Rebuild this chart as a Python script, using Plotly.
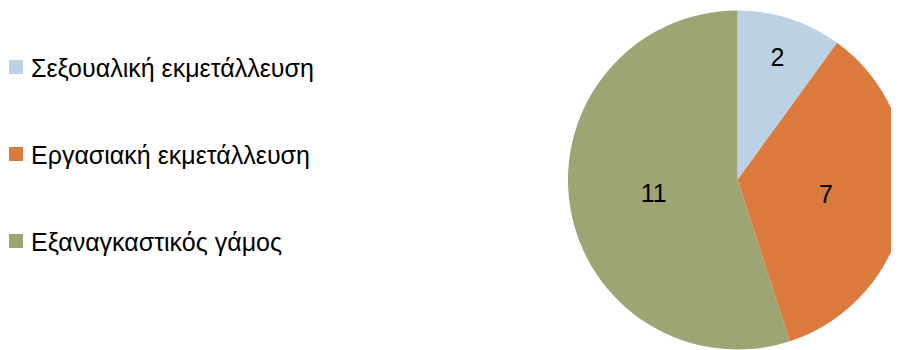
import plotly.graph_objects as go

categories = ["Σεξουαλική εκμετάλλευση", "Εργασιακή εκμετάλλευση", "Εξαναγκαστικός γάμος"]
values = [2, 7, 11]
colors = ["#bdd1e4", "#dc7a3d", "#9ea574"]

W, H = 899, 350

# pie box (px in figure coords)
px0, px1 = 560, 899
pcy = 172
half = (px1 - px0) / 2

fig = go.Figure(
    go.Pie(
        labels=categories,
        values=values,
        sort=False,
        direction="clockwise",
        rotation=0,
        marker=dict(colors=colors, line=dict(width=0)),
        textinfo="value",
        textposition="inside",
        insidetextorientation="horizontal",
        textfont=dict(family="Liberation Sans", size=25, color="black"),
        domain=dict(x=[px0 / W, px1 / W], y=[1 - (pcy + half) / H, 1 - (pcy - half) / H]),
        hoverinfo="label+value",
        showlegend=False,
    )
)

# Legend drawn as coloured squares + labels, placed like the original's legend
leg_top, leg_gap, sq = 59, 87, 14
shapes, annotations = [], []
for i, (name, col) in enumerate(zip(categories, colors)):
    cy = leg_top + i * leg_gap
    shapes.append(dict(
        type="rect", xref="paper", yref="paper",
        x0=1 / W, x1=(1 + sq) / W,
        y0=1 - (cy + sq / 2) / H, y1=1 - (cy - sq / 2) / H,
        fillcolor=col, line=dict(width=0),
    ))
    annotations.append(dict(
        text=name, xref="paper", yref="paper",
        x=21 / W, y=1 - (cy + 1) / H,
        xanchor="left", yanchor="middle", showarrow=False,
        font=dict(family="Liberation Sans", size=25, color="black"),
    ))

fig.update_layout(
    width=W,
    height=H,
    margin=dict(l=0, r=0, t=0, b=0),
    paper_bgcolor="white",
    plot_bgcolor="white",
    font=dict(family="Liberation Sans", size=24, color="black"),
    showlegend=False,
    shapes=shapes,
    annotations=annotations,
)

fig.write_html("out.html")
